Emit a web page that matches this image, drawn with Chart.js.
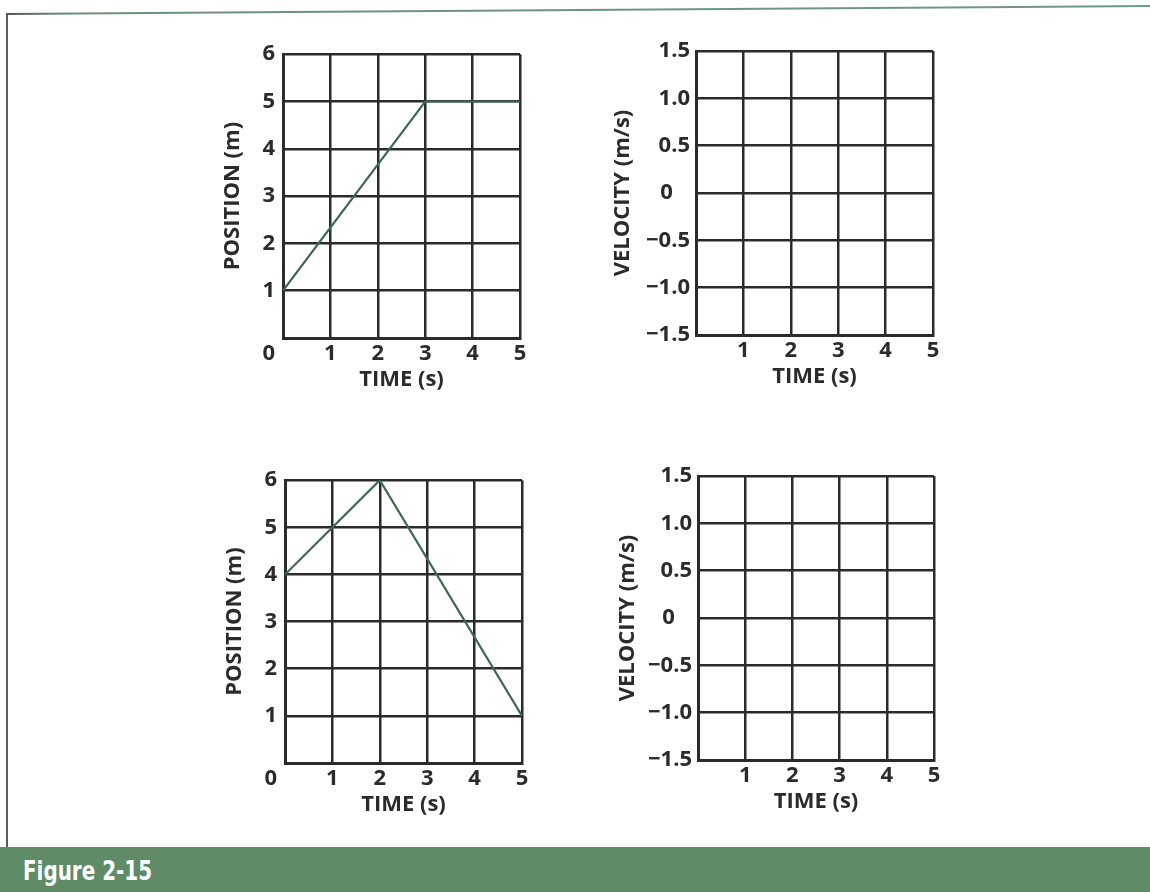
<!DOCTYPE html>
<html>
<head>
<meta charset="utf-8">
<title>Figure 2-15</title>
<script src="https://cdn.jsdelivr.net/npm/chart.js@4.4.1/dist/chart.umd.min.js"></script>
<style>
  html, body { margin: 0; padding: 0; background: #fff; }
  body { width: 1150px; height: 892px; position: relative; overflow: hidden; }
  canvas { position: absolute; }
  .frame-top { position: absolute; left: 7px; top: 13px; width: 1150px; height: 2px;
    background: linear-gradient(to right, #555 0, #6d8f7c 60px, #6f9a86 100%);
    transform: rotate(-0.4deg); transform-origin: 0 0; }
  .frame-left { position: absolute; left: 6px; top: 13px; width: 2px; height: 836px; background: #5a5a5a; }
  .caption { position: absolute; left: 0; top: 847px; width: 1150px; height: 45px; background: #5f8b68; }
  .caption span { position: absolute; left: 23px; top: 8px; color: #fff;
    font: bold 27px "Liberation Sans Narrow", "DejaVu Sans Condensed", sans-serif;
    transform: scaleX(0.82); transform-origin: 0 0; white-space: nowrap; }
</style>
</head>
<body>
<div class="frame-top"></div>
<div class="frame-left"></div>

<canvas id="posTop"></canvas>
<canvas id="velTop"></canvas>
<canvas id="posBottom"></canvas>
<canvas id="velBottom"></canvas>

<div class="caption"><span>Figure 2-15</span></div>

<script>
// axis ticks
const timeTicks = [0, 1, 2, 3, 4, 5];
const positionTicks = [0, 1, 2, 3, 4, 5, 6];
const velocityTicks = [-1.5, -1.0, -0.5, 0, 0.5, 1.0, 1.5];

// position vs time, upper graph
const topTimes = [0, 3, 5];
const topPositions = [1, 5, 5];

// position vs time, lower graph
const bottomTimes = [0, 2, 5];
const bottomPositions = [4, 6, 1];

const INK = '#2b2b2b';
const LINE = '#3d6a50';
const FONT = '"Open Sans", "DejaVu Sans", sans-serif';
const NBSP = '\u00a0';

const AXIS_W = 95, AXIS_H = 60, PAD_T = 20, PAD_R = 20;

function placeCanvas(el, plot) {
  el.width = AXIS_W + (plot.right - plot.left) + PAD_R;
  el.height = PAD_T + (plot.bottom - plot.top) + AXIS_H;
  el.style.left = (plot.left - AXIS_W) + 'px';
  el.style.top = (plot.top - PAD_T) + 'px';
}

// 0 is padded so it sits under the units digit of 1.0
function fmtVelocity(v) {
  if (v === 0) return '0' + NBSP.repeat(3);
  return (v < 0 ? '\u2212' : '') + Math.abs(v).toFixed(1);
}

function makeGraph(id, plot, cfg) {
  const el = document.getElementById(id);
  placeCanvas(el, plot);
  const datasets = cfg.times ? [{
    data: cfg.times.map((t, i) => ({ x: t, y: cfg.values[i] })),
    borderColor: LINE,
    borderWidth: 2.2,
    pointRadius: 0,
    tension: 0
  }] : [];

  new Chart(el.getContext('2d'), {
    type: 'line',
    data: { datasets },
    options: {
      responsive: false,
      animation: false,
      devicePixelRatio: 1,
      layout: { padding: { top: PAD_T, right: PAD_R, left: 0, bottom: 0 } },
      plugins: { legend: { display: false }, tooltip: { enabled: false } },
      scales: {
        x: {
          type: 'linear',
          min: 0, max: 5,
          afterBuildTicks: s => { s.ticks = timeTicks.map(v => ({ value: v })); },
          afterFit: s => { s.height = AXIS_H; },
          grid: { color: INK, lineWidth: 2.5, drawTicks: false },
          border: { color: INK, width: 3 },
          ticks: {
            color: INK, padding: 3, maxRotation: 0,
            font: { family: FONT, size: 22, weight: 'bold' },
            // origin label shared by both axes, pushed left of the corner
            callback: v => v === 0 ? (cfg.showOrigin ? '0' + NBSP.repeat(5) : '') : String(v)
          },
          title: {
            display: true, text: 'TIME (s)', color: INK,
            font: { family: FONT, size: 22, weight: 'bold' },
            padding: { top: 0, bottom: 5 }
          }
        },
        y: {
          type: 'linear',
          min: cfg.yTicks[0], max: cfg.yTicks[cfg.yTicks.length - 1],
          afterBuildTicks: s => { s.ticks = cfg.yTicks.map(v => ({ value: v })); },
          afterFit: s => { s.width = AXIS_W; },
          grid: { color: INK, lineWidth: 2.5, drawTicks: false },
          border: { color: INK, width: 3 },
          ticks: {
            color: INK, padding: cfg.tickPad,
            font: { family: FONT, size: 22, weight: 'bold' },
            callback: cfg.yFormat
          },
          title: {
            display: true, text: cfg.yTitle, color: INK,
            font: { family: FONT, size: 22, weight: 'bold' },
            padding: { top: cfg.titlePad, bottom: 0 }
          }
        }
      }
    }
  });
}

const posFormat = v => v === 0 ? '' : String(v);

makeGraph('posTop', { left: 283, right: 520, top: 53, bottom: 338 }, {
  times: topTimes, values: topPositions, yTicks: positionTicks,
  yFormat: posFormat, yTitle: 'POSITION (m)', tickPad: 8, titlePad: 32, showOrigin: true
});
makeGraph('velTop', { left: 696, right: 933, top: 51, bottom: 335 }, {
  yTicks: velocityTicks, yFormat: fmtVelocity,
  yTitle: 'VELOCITY (m/s)', tickPad: 6, titlePad: 9
});
makeGraph('posBottom', { left: 285, right: 522, top: 479, bottom: 763 }, {
  times: bottomTimes, values: bottomPositions, yTicks: positionTicks,
  yFormat: posFormat, yTitle: 'POSITION (m)', tickPad: 8, titlePad: 32, showOrigin: true
});
makeGraph('velBottom', { left: 698, right: 934, top: 476, bottom: 760 }, {
  yTicks: velocityTicks, yFormat: fmtVelocity,
  yTitle: 'VELOCITY (m/s)', tickPad: 6, titlePad: 12
});
</script>
</body>
</html>
